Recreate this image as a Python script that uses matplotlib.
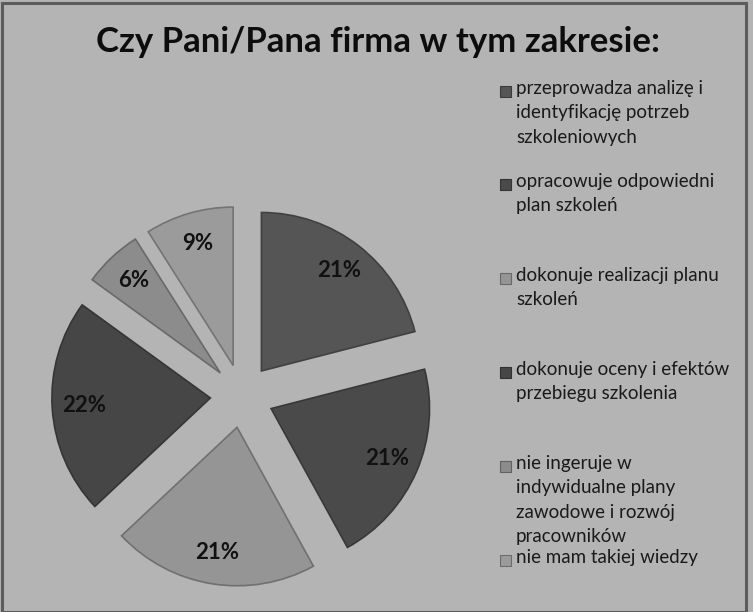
import matplotlib
matplotlib.use("Agg")
import matplotlib.pyplot as plt
from matplotlib.patches import Rectangle
import matplotlib.colors as mcolors

title = "Czy Pani/Pana firma w tym zakresie:"
categories = [
    "przeprowadza analizę i\nidentyfikację potrzeb\nszkoleniowych",
    "opracowuje odpowiedni\nplan szkoleń",
    "dokonuje realizacji planu\nszkoleń",
    "dokonuje oceny i efektów\nprzebiegu szkolenia",
    "nie ingeruje w\nindywidualne plany\nzawodowe i rozwój\npracowników",
    "nie mam takiej wiedzy",
]
values = [21, 21, 21, 22, 6, 9]
colors = ["#555555", "#4a4a4a", "#959595", "#464646", "#8c8c8c", "#9b9b9b"]
bg = "#b4b4b4"

W, H = 753, 612
fig = plt.figure(figsize=(W / 100, H / 100), dpi=100, facecolor=bg)

# border
fig.patches.append(Rectangle((2 / W, 0), 744 / W, 1 - 3 / H, transform=fig.transFigure,
                             fill=False, edgecolor="#5c5c5c", linewidth=2.2))

cx, cy, half = 242, 396, 206
ax = fig.add_axes([(cx - half) / W, (H - cy - half) / H, 2 * half / W, 2 * half / H])
ax.set_facecolor("none")

edge = [mcolors.to_hex([c * 0.75 for c in mcolors.to_rgb(col)]) for col in colors]
wedges, texts, autotexts = ax.pie(
    values, colors=colors, startangle=90, counterclock=False,
    explode=[0.2] * len(values), autopct="%d%%", pctdistance=0.8,
    wedgeprops=dict(linewidth=1.2),
    textprops=dict(family="Lato", fontweight="bold", fontsize=16, color="#111111"),
)
for w, e in zip(wedges, edge):
    w.set_edgecolor(e)
ax.set_xlim(-1.3, 1.3)
ax.set_ylim(-1.3, 1.3)
ax.set_aspect("equal")
ax.axis("off")

fig.text(378 / W, 1 - 42 / H, title, ha="center", va="center",
         family="Lato", fontweight="bold", fontsize=25, color="#0d0d0d")

# legend
ys = [92, 185, 279, 373, 467, 561]
for lab, col, y in zip(categories, colors, ys):
    fig.patches.append(Rectangle((500 / W, 1 - (y + 5) / H), 11 / W, 11 / H,
                                 transform=fig.transFigure, facecolor=col,
                                 edgecolor=mcolors.to_hex([c * 0.7 for c in mcolors.to_rgb(col)]),
                                 linewidth=0.8))
    fig.text(516 / W, 1 - (y - 12) / H, lab, ha="left", va="top", family="Lato",
             fontsize=13.5, color="#1a1a1a", linespacing=1.52)

fig.savefig("out.png", dpi=100, facecolor=bg)
